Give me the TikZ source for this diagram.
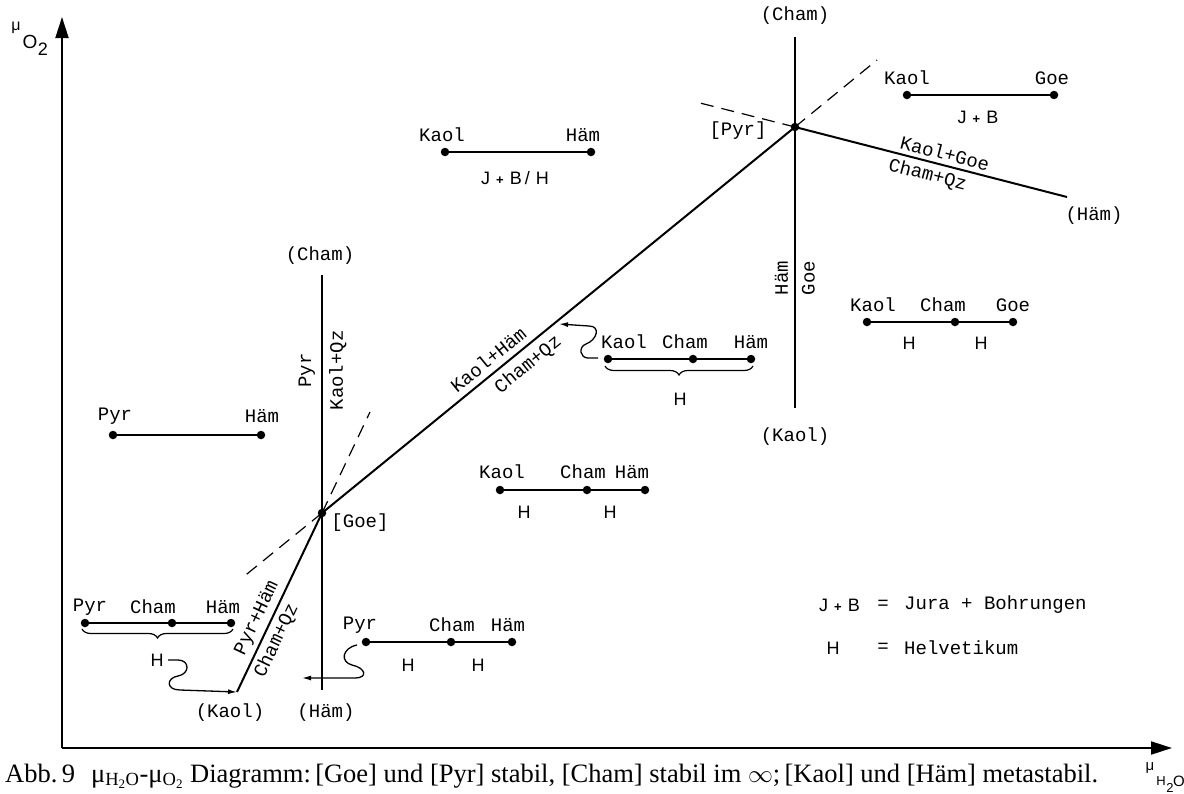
\documentclass[tikz,border=0pt]{standalone}
\usepackage{fontspec}
\setmainfont{Liberation Serif}
\newfontfamily\monof{Liberation Mono}
\newfontfamily\sansf{Liberation Sans}
\usetikzlibrary{arrows.meta,decorations.pathreplacing}
\newcommand{\jplusb}{J\hspace{6pt}{\bfseries\fontsize{13}{13}\selectfont +}\hspace{6pt}B}
\begin{document}
\begin{tikzpicture}[x=1pt,y=-1pt,
  lbl/.style={font=\monof\fontsize{19}{21}\selectfont, inner sep=1pt},
  hl/.style={font=\sansf\fontsize{18}{20}\selectfont, inner sep=1pt},
  dotpt/.style={circle,fill,inner sep=0pt,minimum size=8.5pt},
  seg/.style={line width=1.3pt},
  phase/.style={line width=2pt},
  meta/.style={line width=1.2pt, dash pattern=on 13pt off 8pt},
  axis/.style={line width=2pt},
  curl/.style={line width=1.3pt,-{Latex[length=9pt,width=5pt]}},
  brc/.style={line width=1.2pt, decorate, decoration={brace,mirror,amplitude=9pt}}
]
\useasboundingbox (0,0) rectangle (1184,793);
% axes
\coordinate (O) at (62,748);
\coordinate (yend) at (62,17);
\coordinate (xend) at (1172,748);
\draw[axis,-{Triangle[length=21pt,width=13pt]}] (O) -- (yend);
\draw[axis,-{Triangle[length=21pt,width=13pt]}] (O) -- (xend);
\node[font=\sansf\fontsize{16}{18}\selectfont] (mu1) at (16,28) {μ};
\node[font=\sansf\fontsize{19}{21}\selectfont] (mu1o) at (30,42) {O};
\node[font=\sansf\fontsize{18}{20}\selectfont] (mu1t) at (43,49) {2};
\node[font=\sansf\fontsize{15}{17}\selectfont] (mu2) at (1150,768) {μ};
\node[font=\sansf\fontsize{13}{15}\selectfont] (mu2h) at (1161,781) {H};
\node[font=\sansf\fontsize{13}{15}\selectfont] (mu2t) at (1170,788) {2};
\node[font=\sansf\fontsize{15}{17}\selectfont] (mu2o) at (1179,781) {O};
% invariant points
\coordinate (Goe) at (322,513);
\coordinate (Pyr) at (795,127);
\coordinate (gTop) at (322,275);
\coordinate (gBot) at (322,690);
\coordinate (gKaol) at (237,692);
\coordinate (pTop) at (795,37);
\coordinate (pBot) at (795,408);
\coordinate (pHam) at (1067,197);
\coordinate (gD1) at (242,578);
\coordinate (gD2) at (370,412);
\coordinate (pD1) at (700,103);
\coordinate (pD2) at (877,60);
% stable lines
\draw[phase] (gBot) -- node[lbl,pos=0.77,sloped,above=5pt] {Pyr} node[lbl,pos=0.77,sloped,below=5pt] {Kaol+Qz} (gTop);
\draw[phase] (gKaol) -- node[lbl,pos=0.38,sloped,above=3pt] {Pyr+Häm} node[lbl,pos=0.32,sloped,below=3pt] {Cham+Qz} (Goe);
\draw[phase] (Goe) -- node[lbl,pos=0.37,sloped,above=5pt] {Kaol+Häm} node[lbl,pos=0.415,sloped,below=5pt] {Cham+Qz} (Pyr);
\draw[phase] (pBot) -- node[lbl,pos=0.35,sloped,above=5pt] {Häm} node[lbl,pos=0.35,sloped,below=5pt] {Goe} (pTop);
\draw[phase] (Pyr) -- node[lbl,pos=0.54,sloped,above=3pt] {Kaol+Goe} node[lbl,pos=0.50,sloped,below=3pt] {Cham+Qz} (pHam);
% metastable extensions
\draw[meta] (Goe) -- (gD1);
\draw[meta] (Goe) -- (gD2);
\draw[meta] (Pyr) -- (pD1);
\draw[meta] (Pyr) -- (pD2);
\node[dotpt] (goedot) at (Goe) {};
\node[dotpt] (pyrdot) at (Pyr) {};
% end labels
\node[lbl] (lc1) at (320,256) {(Cham)};
\node[lbl] (lh1) at (326,713) {(Häm)};
\node[lbl] (lk1) at (230,713) {(Kaol)};
\node[lbl] (lg1) at (360,523) {[Goe]};
\node[lbl] (lc2) at (795,16) {(Cham)};
\node[lbl] (lk2) at (795,437) {(Kaol)};
\node[lbl] (lh2) at (1094,216) {(Häm)};
\node[lbl] (lp2) at (738,131) {[Pyr]};
% left: Pyr - Ham
\node[dotpt] (a1) at (113,435) {};
\node[dotpt] (a2) at (261,435) {};
\draw[seg] (a1) -- (a2);
\node[lbl] at (115,416) {Pyr};
\node[lbl] at (262,416) {Häm};
% top center
\node[dotpt] (b1) at (445,152) {};
\node[dotpt] (b2) at (591,152) {};
\draw[seg] (b1) -- (b2);
\node[lbl] at (442,135) {Kaol};
\node[lbl] at (583,135) {Häm};
\node[hl] at (515,178) {\jplusb\,/\hspace{6pt}H};
% top right
\node[dotpt] (c1) at (907,95) {};
\node[dotpt] (c2) at (1054,95) {};
\draw[seg] (c1) -- (c2);
\node[lbl] at (907,78) {Kaol};
\node[lbl] at (1052,78) {Goe};
\node[hl] at (978,117) {\jplusb};
% right middle
\node[dotpt] (d1) at (867,322) {};
\node[dotpt] (d2) at (955,322) {};
\node[dotpt] (d3) at (1013,322) {};
\draw[seg] (d1) -- (d2) -- (d3);
\node[lbl] at (873,305) {Kaol};
\node[lbl] at (943,305) {Cham};
\node[lbl] at (1013,305) {Goe};
\node[hl] at (909,343) {H};
\node[hl] at (981,343) {H};
% center with brace
\node[dotpt] (e1) at (608,359) {};
\node[dotpt] (e2) at (693,359) {};
\node[dotpt] (e3) at (751,359) {};
\draw[seg] (e1) -- (e2) -- (e3);
\node[lbl] at (624,342) {Kaol};
\node[lbl] at (685,342) {Cham};
\node[lbl] at (751,342) {Häm};
\coordinate (eb1) at (605,366);
\coordinate (eb2) at (753,366);
\draw[brc] (eb1) -- (eb2);
\node[hl] (eH) at (680,399) {H};
\coordinate (es) at (598,358);
\coordinate (et) at (559,324);
\draw[curl] (es) -- (588,358) .. controls (580,358) and (578,347) .. (586,344) .. controls (597,340) and (601,326) .. (589,326) -- (et);
% center bottom
\node[dotpt] (f1) at (500,490) {};
\node[dotpt] (f2) at (587,490) {};
\node[dotpt] (f3) at (645,490) {};
\draw[seg] (f1) -- (f2) -- (f3);
\node[lbl] at (502,472) {Kaol};
\node[lbl] at (583,472) {Cham};
\node[lbl] at (632,472) {Häm};
\node[hl] at (524,512) {H};
\node[hl] at (610,512) {H};
% lower left with brace
\node[dotpt] (g1) at (85,623) {};
\node[dotpt] (g2) at (172,623) {};
\node[dotpt] (g3) at (231,623) {};
\draw[seg] (g1) -- (g2) -- (g3);
\node[lbl] at (90,607) {Pyr};
\node[lbl] at (153,607) {Cham};
\node[lbl] at (223,607) {Häm};
\coordinate (gb1) at (82,629);
\coordinate (gb2) at (233,629);
\draw[brc] (gb1) -- (gb2);
\node[hl] (gH) at (157,660) {H};
\coordinate (gs) at (168,660);
\draw[curl] (gs) -- (178,660) .. controls (190,660) and (190,674) .. (178,676) .. controls (166,678) and (166,690) .. (180,690) -- (gKaol);
% lower center
\node[dotpt] (h1) at (366,642) {};
\node[dotpt] (h2) at (451,642) {};
\node[dotpt] (h3) at (512,642) {};
\draw[seg] (h1) -- (h2) -- (h3);
\node[lbl] at (360,625) {Pyr};
\node[lbl] at (452,625) {Cham};
\node[lbl] at (508,625) {Häm};
\node[hl] at (408,665) {H};
\node[hl] at (478,665) {H};
\coordinate (hs) at (357,645);
\coordinate (ht) at (302,678);
\draw[curl] (hs) .. controls (342,648) and (340,662) .. (352,665) .. controls (366,668) and (368,678) .. (355,678) -- (ht);
% legend
\node[hl,anchor=west] at (818,605) {\jplusb};
\node[lbl] at (883,605) {=};
\node[lbl,anchor=west] at (903,605) {Jura + Bohrungen};
\node[hl] at (833,648) {H};
\node[lbl] at (883,648) {=};
\node[lbl,anchor=west] at (903,648) {Helvetikum};
% caption
\node[anchor=base west,inner sep=0pt,font=\fontsize{26.5}{28}\selectfont] (cap) at (5,782) {Abb.\,9\hspace{16pt}μ\textsubscript{H\textsubscript{2}O}-μ\textsubscript{O\textsubscript{2}} Diagramm:\,[Goe] und [Pyr] stabil, [Cham] stabil im $\infty$;\,[Kaol] und [Häm] metastabil.};
\end{tikzpicture}
\end{document}
